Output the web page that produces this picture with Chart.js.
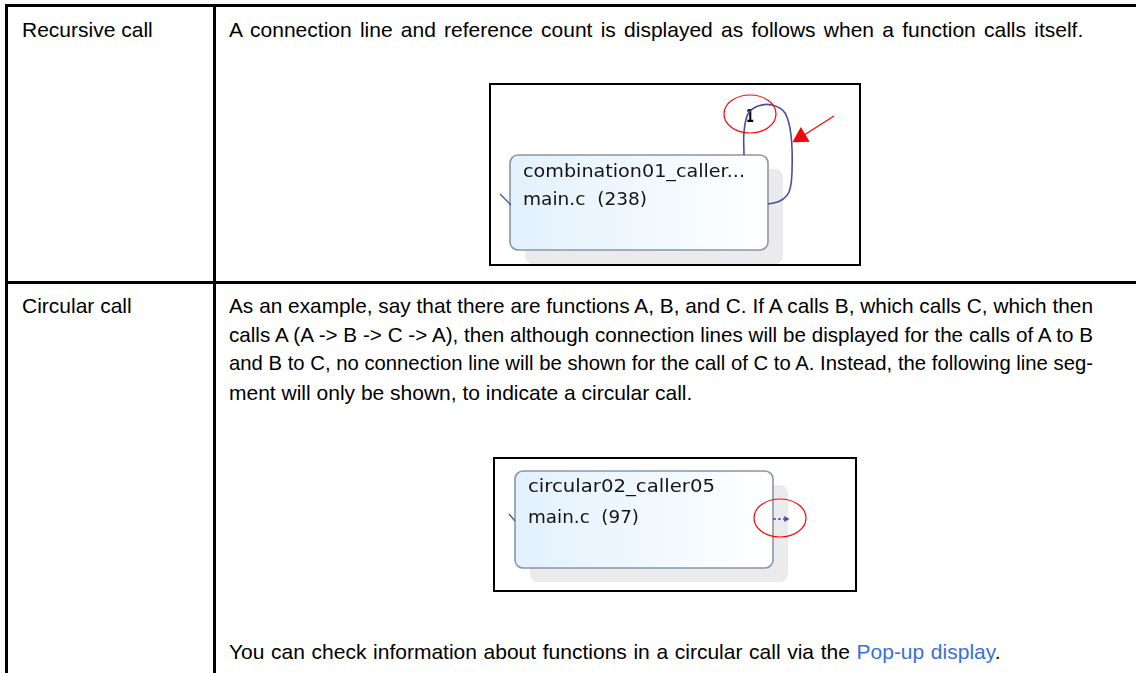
<!DOCTYPE html>
<html>
<head>
<meta charset="utf-8">
<script src="https://cdn.jsdelivr.net/npm/chart.js@4/dist/chart.umd.min.js"></script>
<style>
  html, body { margin: 0; padding: 0; background: #fff; }
  body { width: 1136px; height: 673px; position: relative; overflow: hidden;
         font-family: "Liberation Sans", Arial, sans-serif; font-size: 21px; color: #000; }
  .rule { position: absolute; background: #000; }
  .txt { position: absolute; line-height: 29px; white-space: nowrap; }
  .just { position: absolute; left: 229px; width: 864px; line-height: 29px;
          text-align: justify; text-align-last: justify; white-space: nowrap; }
  .frame { position: absolute; border: 2px solid #000; box-sizing: border-box; }
  .frame canvas { display: block; }
  a { color: #3a6fd6; text-decoration: none; }
</style>
</head>
<body>
<!-- table rules -->
<div class="rule" style="left:5px; top:4px; width:1131px; height:3px"></div>
<div class="rule" style="left:5px; top:4px; width:3px; height:669px"></div>
<div class="rule" style="left:213px; top:4px; width:3px; height:669px"></div>
<div class="rule" style="left:5px; top:281px; width:1131px; height:3px"></div>

<div class="txt" style="left:22px; top:15px">Recursive call</div>
<div class="txt" style="left:229px; top:15px; word-spacing:2.4px">A connection line and reference count is displayed as follows when a function calls itself.</div>

<div class="txt" style="left:22px; top:291px">Circular call</div>
<div class="just" style="top:291px">As an example, say that there are functions A, B, and C. If A calls B, which calls C, which then</div>
<div class="just" style="top:320px">calls A (A -&gt; B -&gt; C -&gt; A), then although connection lines will be displayed for the calls of A to B</div>
<div class="just" style="top:349px">and B to C, no connection line will be shown for the call of C to A. Instead, the following line seg-</div>
<div class="txt" style="left:229px; top:378px">ment will only be shown, to indicate a circular call.</div>
<div class="txt" style="left:229px; top:637px; word-spacing:0.8px">You can check information about functions in a circular call via the <a>Pop-up display</a>.</div>

<div class="frame" style="left:489px; top:83px; width:372px; height:183px"><canvas id="recursive" width="368" height="179"></canvas></div>
<div class="frame" style="left:493px; top:457px; width:364px; height:135px"><canvas id="circular" width="360" height="131"></canvas></div>

<script>
// Recursive call screenshot: node text, reference count and the self-call line
const recNodeLines = ["combination01_caller...", "main.c  (238)"];
const recCount = "1";
const loopX = [744, 744, 748, 758, 772, 785, 791, 792, 789, 780, 768];
const loopY = [155, 132, 114, 106, 105, 113, 135, 172, 192, 201, 204];
const recStubX = [500, 511];
const recStubY = [194, 205];
const pointerX = [834, 801];
const pointerY = [116, 137];

// Circular call screenshot
const circNodeLines = ["circular02_caller05", "main.c  (97)"];
const circStubX = [509, 515];
const circStubY = [514, 521];
const circDashX = [773, 786];
const circDashY = [519, 519];

const LINE = "#4f4c9e";
const RED = "#ff0000";

function pts(xs, ys) { return xs.map((x, i) => ({ x, y: ys[i] })); }

// squeeze justified lines that would overflow their cell
document.querySelectorAll(".just").forEach((el) => {
  let fs = 21;
  while (el.scrollWidth > el.clientWidth + 0.5 && fs > 18) {
    fs -= 0.1;
    el.style.fontSize = fs + "px";
  }
});

// draws the node box (shadow, gradient, border, labels) under the lines,
// and the red call-out ellipse on top
function nodePlugin(node) {
  return {
    id: "node",
    beforeDatasetsDraw(chart) {
      const { ctx, scales: { x, y } } = chart;
      const L = x.getPixelForValue(node.x0), R = x.getPixelForValue(node.x1);
      const T = y.getPixelForValue(node.y0), B = y.getPixelForValue(node.y1);
      ctx.save();
      ctx.fillStyle = "#ebebed";
      roundRect(ctx, L + 15, T + 14, R - L, B - T, 8);
      ctx.fill();
      const g = ctx.createLinearGradient(L, 0, R, 0);
      g.addColorStop(0, "#e2f1fd");
      g.addColorStop(1, "#ffffff");
      ctx.fillStyle = g;
      roundRect(ctx, L, T, R - L, B - T, 8);
      ctx.fill();
      ctx.strokeStyle = "#8997a6";
      ctx.lineWidth = 1.6;
      ctx.stroke();
      ctx.fillStyle = "#141414";
      ctx.textBaseline = "middle";
      node.lines.forEach((s, i) => {
        fitText(ctx, s, L + 13, T + node.rows[i], node.widths[i], "18px 'DejaVu Sans'");
      });
      if (node.count) {
        ctx.fillStyle = "#000";
        fitText(ctx, node.count, x.getPixelForValue(746), y.getPixelForValue(117), 8, "bold 18px 'DejaVu Sans'");
      }
      ctx.restore();
    },
    afterDatasetsDraw(chart) {
      const { ctx, scales: { x, y } } = chart;
      ctx.save();
      ctx.strokeStyle = RED;
      ctx.lineWidth = 1.2;
      ctx.beginPath();
      ctx.ellipse(x.getPixelForValue(node.ex), y.getPixelForValue(node.ey), 26, 19, 0, 0, Math.PI * 2);
      ctx.stroke();
      ctx.restore();
    }
  };
}

function roundRect(ctx, x, y, w, h, r) {
  ctx.beginPath();
  ctx.moveTo(x + r, y);
  ctx.arcTo(x + w, y, x + w, y + h, r);
  ctx.arcTo(x + w, y + h, x, y + h, r);
  ctx.arcTo(x, y + h, x, y, r);
  ctx.arcTo(x, y, x + w, y, r);
  ctx.closePath();
}

function fitText(ctx, s, px, py, w, font) {
  ctx.font = font;
  const m = ctx.measureText(s).width;
  ctx.save();
  ctx.translate(px, py);
  ctx.scale(w / m, 1);
  ctx.fillText(s, 0, 0);
  ctx.restore();
}

function baseOptions(x0, x1, y0, y1) {
  return {
    responsive: false,
    animation: false,
    devicePixelRatio: 1,
    layout: { padding: 0, autoPadding: false },
    plugins: { legend: { display: false }, tooltip: { enabled: false } },
    scales: {
      x: { type: "linear", display: false, min: x0, max: x1 },
      y: { type: "linear", display: false, min: y0, max: y1, reverse: true }
    },
    elements: { point: { radius: 0 } }
  };
}

new Chart(document.getElementById("recursive"), {
  type: "scatter",
  data: {
    datasets: [
      { data: pts(loopX, loopY), showLine: true, tension: 0.35, borderColor: LINE, borderWidth: 1.6, pointRadius: 0 },
      { data: pts(recStubX, recStubY), showLine: true, borderColor: LINE, borderWidth: 1.3, pointRadius: 0 },
      { data: pts(pointerX, pointerY), showLine: true, borderColor: RED, backgroundColor: RED, borderWidth: 1.2,
        pointRadius: [0, 10], pointStyle: "triangle", rotation: 239, pointBorderWidth: 0 }
    ]
  },
  options: baseOptions(491, 859, 85, 264),
  plugins: [nodePlugin({ x0: 510, x1: 768, y0: 155, y1: 250, lines: recNodeLines, widths: [222, 124], rows: [17, 45],
                         count: recCount, ex: 750, ey: 114 })]
});

new Chart(document.getElementById("circular"), {
  type: "scatter",
  data: {
    datasets: [
      { data: pts(circStubX, circStubY), showLine: true, borderColor: LINE, borderWidth: 1.3, pointRadius: 0 },
      { data: pts(circDashX, circDashY), showLine: true, borderColor: LINE, backgroundColor: LINE, borderWidth: 1.6,
        borderDash: [3, 2], pointRadius: [0, 3.5], pointStyle: "triangle", rotation: 90, pointBorderWidth: 0 }
    ]
  },
  options: baseOptions(495, 855, 459, 590),
  plugins: [nodePlugin({ x0: 515, x1: 773, y0: 471, y1: 568, lines: circNodeLines, widths: [187, 111], rows: [16, 47],
                         ex: 780, ey: 518 })]
});
</script>
</body>
</html>
